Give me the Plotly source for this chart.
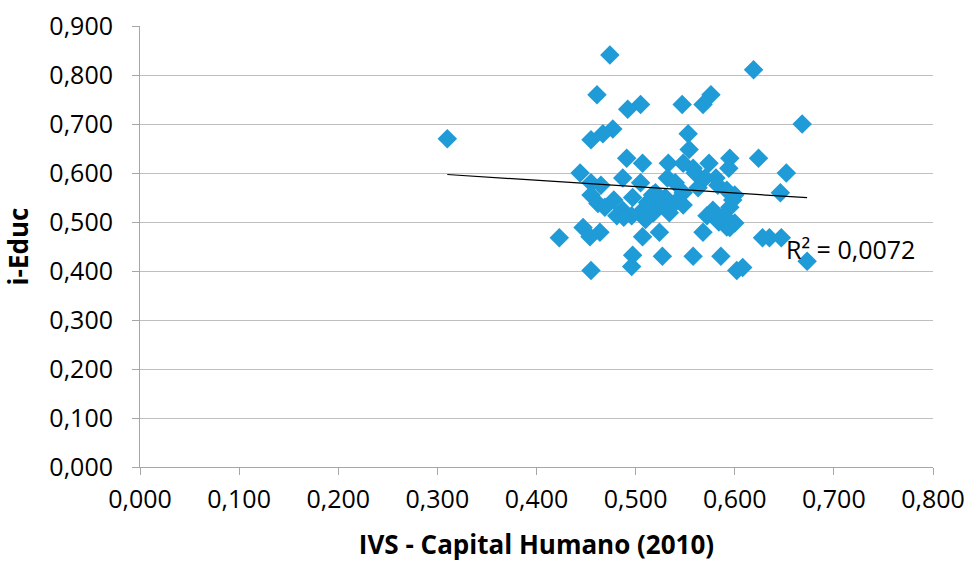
import plotly.graph_objects as go

# Data
ivs_capital_humano = [
    0.310, 0.474, 0.619, 0.461, 0.576, 0.568, 0.547, 0.505, 0.492, 0.477,
    0.467, 0.455, 0.668, 0.553, 0.554, 0.624, 0.491, 0.595, 0.533, 0.574,
    0.507, 0.548, 0.558, 0.594, 0.444, 0.652, 0.581, 0.532, 0.487, 0.455,
    0.505, 0.540, 0.583, 0.646, 0.592, 0.563, 0.455, 0.517, 0.497, 0.478,
    0.530, 0.548, 0.600, 0.462, 0.469, 0.487, 0.481, 0.507, 0.518, 0.532,
    0.534, 0.525, 0.548, 0.578, 0.595, 0.589, 0.572, 0.496, 0.510, 0.584,
    0.592, 0.447, 0.464, 0.454, 0.423, 0.507, 0.524, 0.568, 0.628, 0.635,
    0.647, 0.497, 0.527, 0.558, 0.586, 0.496, 0.455, 0.602, 0.608, 0.673,
    0.488, 0.560, 0.570, 0.520, 0.540, 0.598, 0.595, 0.600, 0.465, 0.512,
]
i_educ = [
    0.670, 0.841, 0.811, 0.760, 0.760, 0.740, 0.740, 0.740, 0.730, 0.690,
    0.680, 0.668, 0.700, 0.680, 0.648, 0.630, 0.630, 0.630, 0.620, 0.620,
    0.620, 0.620, 0.610, 0.610, 0.600, 0.600, 0.590, 0.590, 0.590, 0.580,
    0.580, 0.580, 0.575, 0.560, 0.565, 0.570, 0.555, 0.555, 0.550, 0.545,
    0.550, 0.560, 0.555, 0.538, 0.530, 0.524, 0.513, 0.524, 0.519, 0.527,
    0.519, 0.535, 0.535, 0.524, 0.530, 0.513, 0.513, 0.513, 0.505, 0.500,
    0.490, 0.489, 0.479, 0.470, 0.468, 0.470, 0.479, 0.479, 0.468, 0.468,
    0.468, 0.432, 0.430, 0.430, 0.430, 0.409, 0.401, 0.401, 0.407, 0.420,
    0.510, 0.600, 0.590, 0.560, 0.540, 0.545, 0.489, 0.498, 0.575, 0.540,
]

# Linear trendline as shown in the reference (coefficients)
trend_slope = -0.1306
trend_intercept = 0.6375
trend_x = [min(ivs_capital_humano), max(ivs_capital_humano)]
trend_y = [trend_intercept + trend_slope * v for v in trend_x]
r2_label = "R² = 0,0072"

x_ticks = [0.0, 0.1, 0.2, 0.3, 0.4, 0.5, 0.6, 0.7, 0.8]
y_ticks = [0.0, 0.1, 0.2, 0.3, 0.4, 0.5, 0.6, 0.7, 0.8, 0.9]

FONT = "Open Sans"
fig = go.Figure()
fig.add_trace(go.Scatter(
    x=ivs_capital_humano, y=i_educ, mode="markers",
    marker=dict(symbol="diamond", size=15, color="#1f9bd7", line=dict(width=0)),
    showlegend=False,
))
fig.add_trace(go.Scatter(
    x=trend_x, y=trend_y, mode="lines",
    line=dict(color="#000000", width=1.2), showlegend=False,
))
fig.add_annotation(
    x=0.650, y=0.444, xref="x", yref="y", text=r2_label, showarrow=False,
    xanchor="left", yanchor="middle", font=dict(family=FONT, size=25, color="#000"),
)

fig.update_layout(
    width=970, height=562,
    margin=dict(l=140, r=37, t=26, b=95),
    paper_bgcolor="white", plot_bgcolor="white",
    separators=",.",
    font=dict(family=FONT, color="#000"),
)
fig.update_xaxes(
    range=[0, 0.8], tickvals=x_ticks, tickformat=".3f", automargin=False,
    showgrid=False, zeroline=False,
    showline=True, linecolor="#a6a6a6", linewidth=1,
    ticks="outside", ticklen=7, tickcolor="#a6a6a6",
    tickfont=dict(family=FONT, size=25), ticklabelstandoff=3,
    ticklabeloverflow="allow",
    title=dict(text="<b>IVS - Capital Humano (2010)</b>",
               font=dict(family=FONT, size=26), standoff=22),
)
fig.update_yaxes(
    range=[0, 0.9001], tickvals=y_ticks, tickformat=".3f", automargin=False,
    showgrid=True, gridcolor="#bfbfbf", gridwidth=1.3, zeroline=False,
    showline=True, linecolor="#a6a6a6", linewidth=1,
    ticks="outside", ticklen=7, tickcolor="#a6a6a6",
    tickfont=dict(family=FONT, size=25), ticklabelstandoff=14,
    ticklabeloverflow="allow",
    title=dict(text="<b>i-Educ</b>", font=dict(family=FONT, size=26), standoff=13),
)

fig.write_html(
    "out.html",
    config={"displayModeBar": False},
    post_script="document.body.style.margin='0';document.body.style.overflow='hidden';",
)
